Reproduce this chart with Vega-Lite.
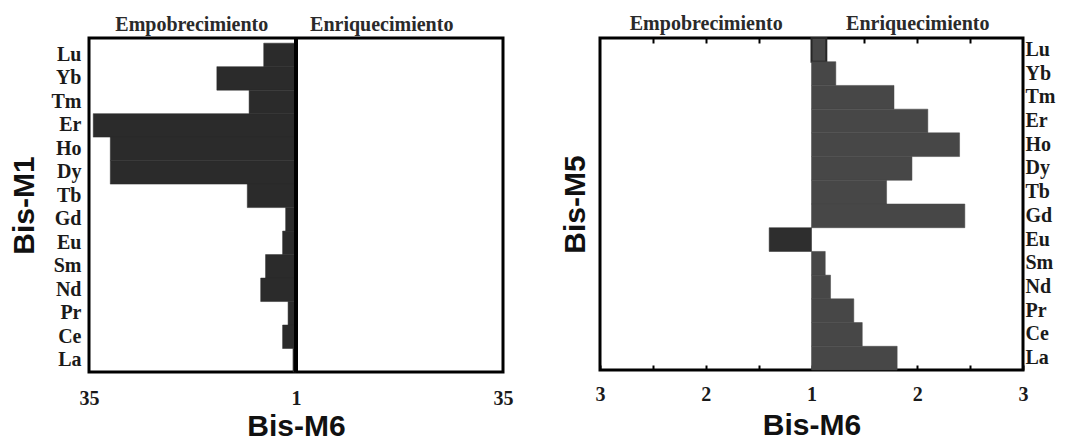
{
  "$schema": "https://vega.github.io/schema/vega-lite/v6.json",
  "padding": {"left": 7, "top": 11, "right": 5, "bottom": 2},
  "background": "white",
  "bounds": "flush",
  "spacing": 97,
  "config": {
    "view": {"stroke": "black", "strokeWidth": 3},
    "axis": {
      "grid": false, "domain": false,
      "labelFont": "Liberation Serif", "labelFontWeight": "bold", "labelFontSize": 20, "labelColor": "#1a1a1a",
      "titleFont": "Liberation Sans", "titleFontWeight": "bold", "titleFontSize": 30, "titleColor": "#111"
    }
  },
  "datasets": {
    "m1": [
      {"elemento": "Lu", "valor": -5.3},
      {"elemento": "Yb", "valor": -13.0},
      {"elemento": "Tm", "valor": -7.7},
      {"elemento": "Er", "valor": -33.3},
      {"elemento": "Ho", "valor": -30.5},
      {"elemento": "Dy", "valor": -30.5},
      {"elemento": "Tb", "valor": -8.0},
      {"elemento": "Gd", "valor": -1.7},
      {"elemento": "Eu", "valor": -2.2},
      {"elemento": "Sm", "valor": -5.0},
      {"elemento": "Nd", "valor": -5.8},
      {"elemento": "Pr", "valor": -1.3},
      {"elemento": "Ce", "valor": -2.2},
      {"elemento": "La", "valor": -0.5}
    ],
    "m5": [
      {"elemento": "Lu", "valor": 0.14},
      {"elemento": "Yb", "valor": 0.23},
      {"elemento": "Tm", "valor": 0.78},
      {"elemento": "Er", "valor": 1.10},
      {"elemento": "Ho", "valor": 1.40},
      {"elemento": "Dy", "valor": 0.95},
      {"elemento": "Tb", "valor": 0.71},
      {"elemento": "Gd", "valor": 1.45},
      {"elemento": "Eu", "valor": -0.40},
      {"elemento": "Sm", "valor": 0.13},
      {"elemento": "Nd", "valor": 0.18},
      {"elemento": "Pr", "valor": 0.40},
      {"elemento": "Ce", "valor": 0.48},
      {"elemento": "La", "valor": 0.81}
    ]
  },
  "hconcat": [
    {
      "width": 414, "height": 334,
      "data": {"name": "m1"},
      "layer": [
        {
          "mark": {"type": "bar", "color": "#2b2b2b", "stroke": "#2b2b2b", "strokeWidth": 0.5},
          "encoding": {
            "y": {"field": "elemento", "type": "nominal",
              "sort": ["Lu","Yb","Tm","Er","Ho","Dy","Tb","Gd","Eu","Sm","Nd","Pr","Ce","La"],
              "scale": {"paddingInner": 0, "paddingOuter": 0.11, "align": 1},
              "axis": {"orient": "left", "title": "Bis-M1", "ticks": false, "labelPadding": 8, "titlePadding": 12}},
            "x": {"field": "valor", "type": "quantitative",
              "scale": {"domain": [-34, 34], "nice": false, "zero": false},
              "axis": {"orient": "bottom", "values": [-34, 0, 34], "labelExpr": "'' + (abs(datum.value) + 1)",
                "ticks": false, "labelFlush": false, "title": "Bis-M6", "labelPadding": 16, "titlePadding": 3}},
            "x2": {"datum": 0}
          }
        },
        {
          "mark": {"type": "rule", "color": "black", "strokeWidth": 4, "y2Offset": 8},
          "encoding": {
            "x": {"datum": 0, "type": "quantitative",
              "axis": {"orient": "top", "values": [-17.2, 14], "ticks": false,
                "labelExpr": "datum.value < 0 ? 'Empobrecimiento' : 'Enriquecimiento'",
                "title": null, "labelFontSize": 20, "labelColor": "#2a2a2a", "labelPadding": 4, "labelFlush": false}}
          }
        }
      ],
      "resolve": {"axis": {"x": "independent"}}
    },
    {
      "width": 423, "height": 332,
      "data": {"name": "m5"},
      "layer": [
        {
          "mark": {"type": "bar"},
          "encoding": {
            "y": {"field": "elemento", "type": "nominal",
              "sort": ["Lu","Yb","Tm","Er","Ho","Dy","Tb","Gd","Eu","Sm","Nd","Pr","Ce","La"],
              "scale": {"paddingInner": 0, "paddingOuter": 0},
              "axis": {"orient": "right", "title": null, "ticks": false, "labelAlign": "left", "labelPadding": 2}},
            "x": {"field": "valor", "type": "quantitative",
              "scale": {"domain": [-2, 2], "nice": false, "zero": false},
              "axis": {"orient": "bottom", "offset": -5, "values": [-2, -1.5, -1, -0.5, 0, 0.5, 1, 1.5, 2],
                "labelExpr": "datum.value % 1 == 0 ? '' + (abs(datum.value) + 1) : ''",
                "ticks": true, "tickSize": 5, "tickWidth": 2, "tickColor": "#000000", "tickOpacity": 1,
                "labelFlush": false, "title": "Bis-M6", "labelPadding": 14, "titlePadding": 6}},
            "x2": {"datum": 0},
            "color": {"condition": {"test": "datum.valor < 0", "value": "#2e2e2e"}, "value": "#474747"},
            "stroke": {"condition": {"test": "datum.valor < 0 || datum.elemento == 'Lu'", "value": "#262626"}, "value": "#474747"},
            "strokeWidth": {"condition": {"test": "datum.elemento == 'Lu'", "value": 2}, "value": 0.5}
          }
        },
        {
          "mark": {"type": "text"},
          "encoding": {
            "y": {"field": "elemento", "type": "nominal",
              "sort": ["Lu","Yb","Tm","Er","Ho","Dy","Tb","Gd","Eu","Sm","Nd","Pr","Ce","La"],
              "axis": {"orient": "left", "title": "Bis-M5", "labels": false, "ticks": false, "domain": false, "titlePadding": 10}},
            "text": {"value": ""}
          }
        },
        {
          "mark": {"type": "rule", "strokeWidth": 0, "opacity": 0},
          "encoding": {
            "x": {"datum": 0, "type": "quantitative",
              "axis": {"orient": "top", "offset": -5, "values": [-1.5, -1, -0.5, 0.5, 1, 1.5],
                "labelExpr": "datum.value == -1 ? 'Empobrecimiento' : datum.value == 1 ? 'Enriquecimiento' : ''",
                "ticks": true, "tickSize": 5, "tickWidth": 2, "tickColor": "#000000", "tickOpacity": 1,
                "title": null, "labelFontSize": 20, "labelColor": "#2a2a2a", "labelPadding": 5, "labelFlush": false}}
          }
        }
      ],
      "resolve": {"axis": {"x": "independent", "y": "independent"}}
    }
  ]
}
